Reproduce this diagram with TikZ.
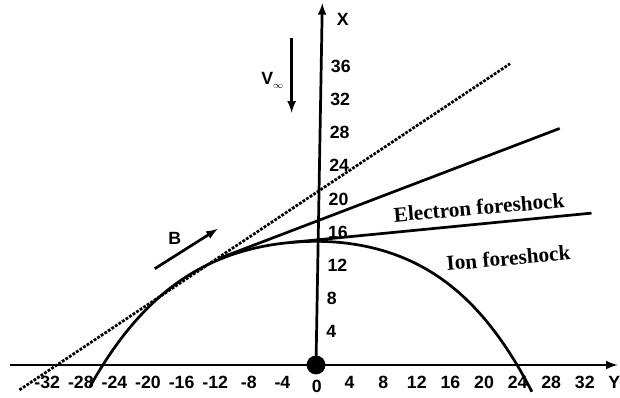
\documentclass[tikz,border=0pt]{standalone}
\usepackage{fontspec}
\setmainfont{Liberation Serif}
\setsansfont{Liberation Sans}
\tikzset{
  axisline/.style={line width=2.3pt, ->, >=latex},
  shockline/.style={line width=2.3pt},
  numlabel/.style={font=\sffamily\bfseries\fontsize{15}{17}\selectfont, inner sep=1pt},
  regionlabel/.style={font=\bfseries\fontsize{18}{20}\selectfont, inner sep=1pt, rotate=5}
}
\begin{document}
\begin{tikzpicture}[x=0.25cm, y=0.247cm,
    declare function={sc(\t)=\t*(1+0.06*(\t>0)); qq(\t)=sc(\t)*sc(\t)/100;
      bow(\t)=14.9-1.479*qq(\t)-0.1297*qq(\t)*qq(\t);}]
        % \draw[help lines, gray!50, very thin] (-36,-4) grid (36,44);
        \useasboundingbox (-37.62,-3.86) rectangle (36.19,43.98);

        % axes
        \draw[axisline] (-36.4,0) -- (35.9,0);
        \draw[axisline] (0,0) -- (0.75,43.6);
        \node[circle, fill=black, minimum size=0.56cm, inner sep=0pt] (origin) at (0,0) {};
        \node[numlabel] (ylab) at (35.5,-2.1) {Y};
        \node[numlabel] (xlab) at (3.2,41.6) {X};

        \foreach \y [count=\i] in {-32,-28,...,-4,4,8,...,32}
          \node[numlabel] (ty\i) at (\y,-2.1) {\y};
        \node[numlabel] (ty0) at (0.1,-2.6) {0};
        \foreach \x in {4,8,...,36}
          \node[numlabel, anchor=west] (tx\x) at ({1.0+0.017*\x},\x) {\x};

        % bow shock
        \draw[shockline, variable=\t, domain=-26.9:25.7, samples=120, smooth] plot (\t,{bow(\t)});

        % tangent field lines
        \draw[line width=2.3pt, dash pattern=on 2.4pt off 1.2pt] (-35.3,-3.0) -- (23.1,36.3);
        \draw[shockline] (-11.5,12.86) -- (29,28.5);
        \draw[shockline] (-3,14.77) -- (32.8,18.3);

        \node[regionlabel] (electron) at (19.4,19.0) {Electron foreshock};
        \node[regionlabel] (ion) at (22.9,12.9) {Ion foreshock};

        % B and V
        \draw[line width=2.3pt, ->, >=latex] (-19.2,11.6) -- (-11.7,16.4);
        \node[numlabel] (blab) at (-16.8,15.3) {B};
        \draw[line width=2.3pt, ->, >=latex] (-2.9,39.4) -- (-2.9,30.4);
        \node[numlabel] (vlab) at (-5.2,34.3) {V\raisebox{-0.4ex}{\fontsize{8}{9}\selectfont$\infty$}};
      \end{tikzpicture}
\end{document}
